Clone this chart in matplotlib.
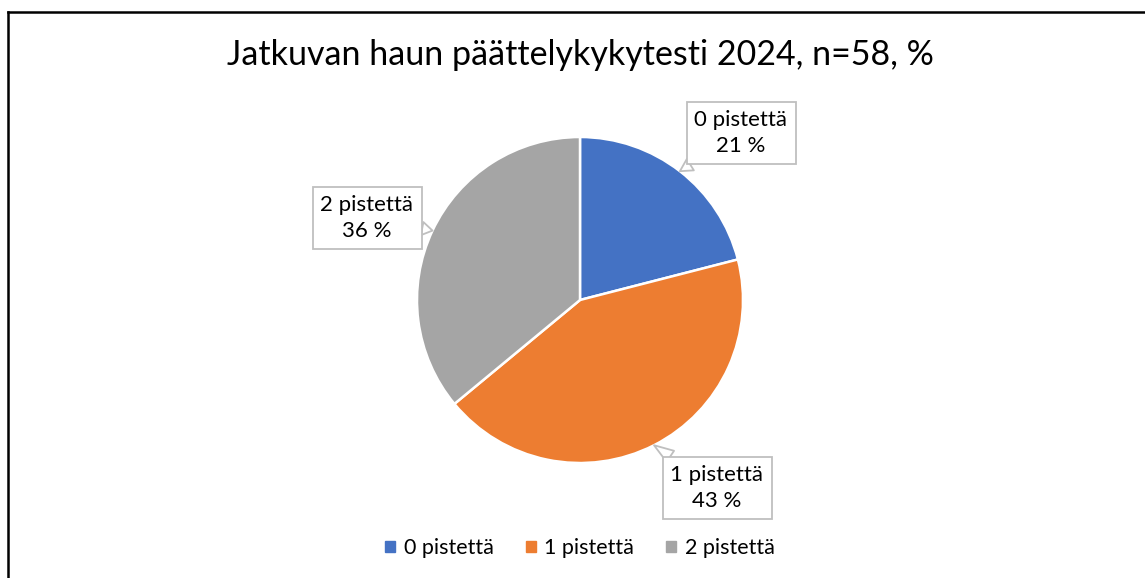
import matplotlib.pyplot as plt
from matplotlib.patches import Rectangle
from matplotlib.lines import Line2D
import numpy as np

# Data
categories = ["0 pistettä", "1 pistettä", "2 pistettä"]
shares = [21, 43, 36]  # %
colors = ["#4472C4", "#ED7D31", "#A5A5A5"]
title = "Jatkuvan haun päättelykykytesti 2024, n=58, %"

W, H = 1145, 578
plt.rcParams['font.family'] = ['Lato', 'DejaVu Sans']

fig = plt.figure(figsize=(W / 100, H / 100), dpi=100)

# pie axes: center (580, 300) px, radius 163 px
cx, cy, r = 580, 300, 163
ax = fig.add_axes([(cx - r) / W, (H - cy - r) / H, 2 * r / W, 2 * r / H])
wedges, _ = ax.pie(shares, colors=colors, startangle=90, counterclock=False,
                   wedgeprops=dict(edgecolor="white", linewidth=1.8))
ax.set_xlim(-1, 1)
ax.set_ylim(-1, 1)

# callout label positions (figure pixels, y from top)
label_pos = [(741, 133), (717, 488), (367, 218)]
for w, cat, val, (lx, ly) in zip(wedges, categories, shares, label_pos):
    ang = np.deg2rad((w.theta1 + w.theta2) / 2)
    ax.annotate(f"{cat}\n{val} %", xy=(np.cos(ang), np.sin(ang)), xycoords="data",
                xytext=(lx, H - ly), textcoords="figure pixels",
                ha="center", va="center", fontsize=16, linespacing=1.38,
                color="#000000",
                bbox=dict(boxstyle="square,pad=0.36", fc="white", ec="#BFBFBF", lw=1.3),
                arrowprops=dict(arrowstyle="wedge,tail_width=0.6,shrink_factor=0.5",
                                fc="white", ec="#BFBFBF", lw=1.3, shrinkA=0, shrinkB=0))

fig.text(cx / W, 1 - 55 / H, title, ha="center", va="center", fontsize=24.5)

handles = [Rectangle((0, 0), 1, 1, color=c) for c in colors]
fig.legend(handles, categories, loc="center", bbox_to_anchor=(cx / W, 30 / H),
           ncol=3, frameon=False, fontsize=15.5, handlelength=0.45, handleheight=0.45,
           handletextpad=0.4, columnspacing=1.5)

# chart border (left and top visible)
fig.add_artist(Line2D([7.5 / W, 7.5 / W], [0, 1 - 11.5 / H], color="black", lw=1.8,
                      transform=fig.transFigure))
fig.add_artist(Line2D([7.5 / W, 1], [1 - 11.5 / H, 1 - 11.5 / H], color="black", lw=1.8,
                      transform=fig.transFigure))

fig.savefig("out.png", dpi=100)
